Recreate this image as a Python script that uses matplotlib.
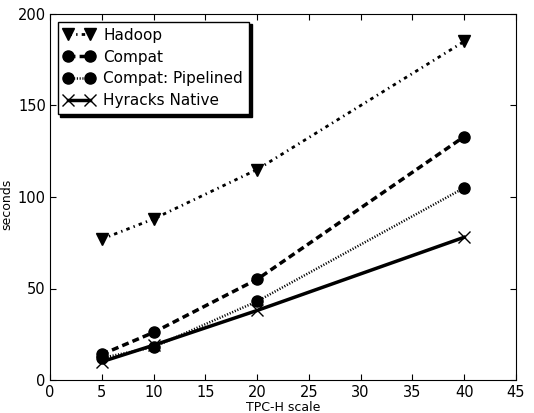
import numpy as np
import matplotlib
matplotlib.use('Agg')
import matplotlib.pyplot as plt

# Given
scale = [5, 10, 20, 40]
hadoop = [77, 88, 115, 185]
compat = [14, 26, 55, 133]
pipelined = [12, 18, 43, 105]
native = [10, 19, 38, 78]

plt.rcParams['lines.scale_dashes'] = False
plt.rcParams['xtick.direction'] = 'in'
plt.rcParams['ytick.direction'] = 'in'

fig = plt.figure(figsize=(5.34, 4.13), dpi=100)
ax = fig.add_axes([50/534, 33/413, 466/534, 366/413])

ax.plot(scale, hadoop, color='k', marker='v', markersize=8, linewidth=2,
        dashes=(2.5, 3, 1, 3), label='Hadoop')
ax.plot(scale, compat, color='k', marker='o', markersize=8, linewidth=2.5,
        dashes=(5, 3), label='Compat')
ax.plot(scale, pipelined, color='k', marker='o', markersize=8, linewidth=1.8,
        dashes=(0.8, 1.2), label='Compat: Pipelined')
ax.plot(scale, native, color='k', marker='x', markersize=8, linewidth=2.5,
        markeredgewidth=1, label='Hyracks Native')

ax.set_xlim(0, 45)
ax.set_ylim(0, 200)
ax.set_xticks(np.arange(0, 46, 5))
ax.set_yticks(np.arange(0, 201, 50))
ax.tick_params(labelsize=10.5, length=4, top=True, right=True)
ax.tick_params(axis='y', pad=3)
ax.set_xlabel('TPC-H scale', fontsize=9, labelpad=1)
ax.set_ylabel('seconds', fontsize=9)
ax.yaxis.set_label_coords(-0.078, 0.48)

leg = ax.legend(loc='upper left', numpoints=2, fontsize=11,
                shadow={'color': 'k', 'alpha': 1},
                fancybox=False, framealpha=1, edgecolor='k',
                handlelength=2.0, handletextpad=0.6, labelspacing=0.45,
                borderaxespad=0.5)
leg.get_frame().set_linewidth(1)

fig.savefig('out.png', dpi=100)
